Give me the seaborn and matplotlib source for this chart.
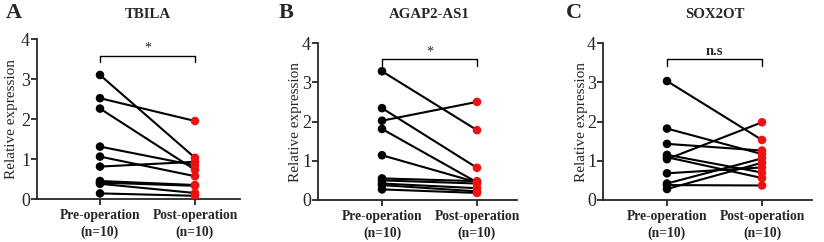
import numpy as np
import pandas as pd
import matplotlib
matplotlib.use('Agg')
import matplotlib.pyplot as plt
import seaborn as sns

# Valores (pareados: pre[i] -> post[i])
tbila_pre = [2.52, 3.10, 0.81, 1.31, 2.26, 1.06, 0.45, 0.41, 0.38, 0.14]
tbila_post = [1.95, 1.03, 0.93, 0.84, 0.73, 0.57, 0.35, 0.33, 0.15, 0.08]

agap_pre = [3.28, 2.02, 2.34, 1.81, 1.14, 0.55, 0.50, 0.42, 0.38, 0.27]
agap_post = [1.78, 2.50, 0.82, 0.45, 0.45, 0.48, 0.42, 0.30, 0.22, 0.18]

sox_pre = [3.03, 1.82, 1.43, 1.15, 1.09, 1.04, 0.68, 0.42, 0.38, 0.28]
sox_post = [1.53, 1.17, 1.26, 0.70, 0.56, 1.98, 0.83, 1.06, 0.37, 0.95]

panel_letters = ['A', 'B', 'C']
panel_titles = ['TBILA', 'AGAP2-AS1', 'SOX2OT']
sig_labels = ['*', '*', 'n.s']
group_labels = ['Pre-operation\n(n=10)', 'Post-operation\n(n=10)']

series = [(tbila_pre, tbila_post), (agap_pre, agap_post), (sox_pre, sox_post)]

sns.set_style('ticks')
plt.rcParams['font.family'] = ['Liberation Serif', 'DejaVu Serif']

fig = plt.figure(figsize=(8.24, 2.42), dpi=100)
W, H = 824, 242

# posições dos eixos em pixels: (esquerda, direita, topo, base)
boxes = [(37, 240, 39, 199), (318, 517, 43, 200), (603, 812, 43, 200)]
pre_px = [100, 382, 667]
post_px = [195, 477, 762]
letter_x = [14, 286, 574]
ylabel_x = [12, 295, 582]

for i, (pre, post) in enumerate(series):
    l, r, t, b = boxes[i]
    ax = fig.add_axes([l / W, (H - b) / H, (r - l) / W, (b - t) / H])

    n = len(pre)
    df = pd.DataFrame({
        'subject': list(range(n)) * 2,
        'pos': [0] * n + [1] * n,
        'group': ['pre'] * n + ['post'] * n,
        'value': pre + post,
    })

    sns.lineplot(data=df, x='pos', y='value', units='subject', estimator=None,
                 color='black', linewidth=1.5, ax=ax, legend=False)
    sns.scatterplot(data=df, x='pos', y='value', hue='group',
                    palette={'pre': 'black', 'post': '#ee1111'},
                    s=38, edgecolor='none', ax=ax, legend=False, zorder=3)

    # escala x: 95 px entre os grupos
    span = post_px[i] - pre_px[i]
    ax.set_xlim(-(pre_px[i] - l) / span, 1 + (r - post_px[i]) / span)
    ax.set_ylim(0, 4)
    ax.set_yticks([0, 1, 2, 3, 4])
    ax.set_yticklabels(['0', '1', '2', '3', '4'], fontsize=13)
    ax.set_xticks([0, 1])
    ax.set_xticklabels(group_labels, fontsize=9.8, fontweight='bold', linespacing=1.35)
    ax.set_xlabel('')
    ax.set_ylabel('')
    for s in ['left', 'bottom']:
        ax.spines[s].set_linewidth(1.3)
    sns.despine(ax=ax)
    ax.tick_params(axis='both', width=1.3, length=4, pad=1)
    ax.tick_params(axis='x', pad=3)
    ax.patch.set_alpha(0)

    # colchete de significância
    y0, y1 = 3.42, 3.58
    ax.plot([0, 0, 1, 1], [y0, y1, y1, y0], color='black', lw=1.0, clip_on=False)
    if sig_labels[i] == '*':
        ax.text(0.5, y1 + 0.02, '*', ha='center', va='bottom', fontsize=10)
    else:
        ax.text(0.5, y1 + 0.05, sig_labels[i], ha='center', va='bottom',
                fontsize=10.5, fontweight='bold')

    fig.text(ylabel_x[i] / W, ((H - b) + (b - t) / 2) / H, 'Relative expression',
             rotation=90, ha='center', va='center', fontsize=11)
    fig.text((pre_px[i] + post_px[i]) / 2 / W, 1 - 15 / H, panel_titles[i],
             ha='center', va='center', fontsize=10.7, fontweight='bold')
    fig.text(letter_x[i] / W, 1 - 13 / H, panel_letters[i],
             ha='center', va='center', fontsize=16, fontweight='bold')

fig.savefig('out.png', dpi=100)
